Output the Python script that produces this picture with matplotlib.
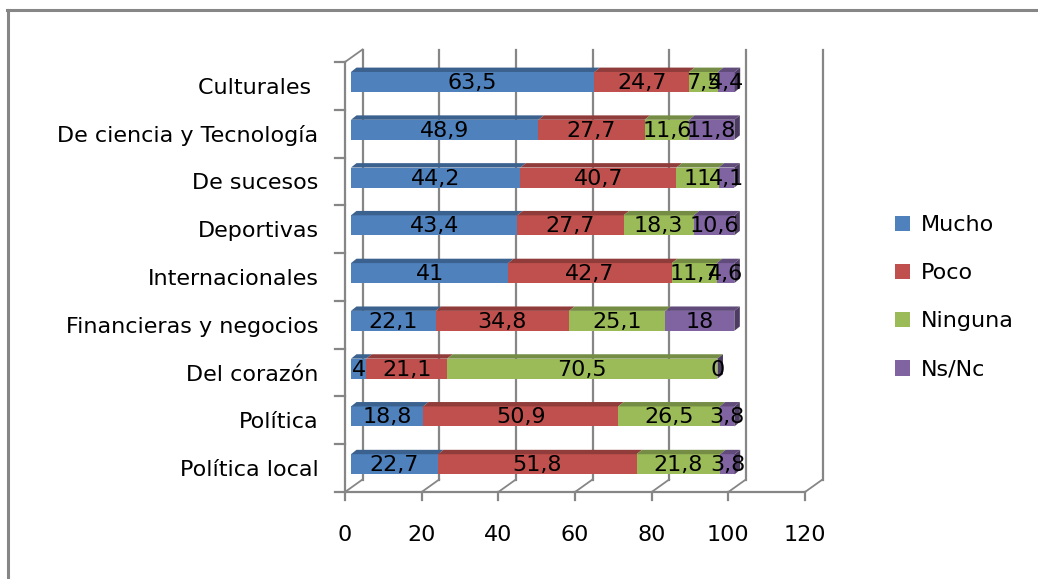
import matplotlib
matplotlib.use("Agg")
import matplotlib.pyplot as plt
from matplotlib.patches import Polygon
from matplotlib.lines import Line2D
from matplotlib.colors import to_rgb

plt.rcParams['font.family'] = ['DejaVu Sans']

categorias = ["Culturales ", "De ciencia y Tecnología", "De sucesos", "Deportivas",
              "Internacionales", "Financieras y negocios", "Del corazón",
              "Política", "Política local"]
series = ["Mucho", "Poco", "Ninguna", "Ns/Nc"]
mucho = [63.5, 48.9, 44.2, 43.4, 41, 22.1, 4, 18.8, 22.7]
poco = [24.7, 27.7, 40.7, 27.7, 42.7, 34.8, 21.1, 50.9, 51.8]
ninguna = [7.5, 11.6, 11, 18.3, 11.7, 25.1, 70.5, 26.5, 21.8]
nsnc = [4.4, 11.8, 4.1, 10.6, 4.6, 18, 0, 3.8, 3.8]
colores = ["#4F81BD", "#C0504D", "#9BBB59", "#8064A2"]
xticks = [0, 20, 40, 60, 80, 100, 120]

W, H = 1038, 579
fig = plt.figure(figsize=(W / 100, H / 100), dpi=100)
# axes = front plane of the 3d box
ax_l, ax_r, ax_t, ax_b = 345, 805, 62, 492
ax = fig.add_axes([ax_l / W, (H - ax_b) / H, (ax_r - ax_l) / W, (ax_b - ax_t) / H])
ax.set_xlim(0, 120)
ax.set_ylim(len(categorias) - 0.5, -0.5)

px_x = (ax_r - ax_l) / 120.0
px_y = (ax_b - ax_t) / len(categorias)

def dx(p):
    return p / px_x

def dy(p):
    return p / px_y

gris = "#868686"
n = len(categorias)
gdx, gdy = dx(17.5), dy(12.5)

# back wall gridlines + floor slants
for t in xticks:
    ax.plot([t + gdx, t + gdx], [n - 0.5 - gdy, -0.5 - gdy], color=gris, lw=1.6, zorder=1, clip_on=False)
    ax.plot([t, t + gdx], [n - 0.5, n - 0.5 - gdy], color=gris, lw=1.3, zorder=1, clip_on=False)
    ax.plot([t, t], [n - 0.5, n - 0.5 + dy(8)], color=gris, lw=1.6, zorder=1, clip_on=False)
ax.plot([0, 120], [n - 0.5, n - 0.5], color=gris, lw=1.6, zorder=1, clip_on=False)
ax.plot([0, 0], [-0.5, n - 0.5], color=gris, lw=1.6, zorder=1, clip_on=False)
ax.plot([0, gdx], [-0.5, -0.5 - gdy], color=gris, lw=1.3, zorder=1, clip_on=False)
for k in range(n + 1):
    ax.plot([0, -dx(10)], [k - 0.5, k - 0.5], color=gris, lw=1.6, zorder=1, clip_on=False)

# bars
fx = dx(6)
fy = dy(3.9)
bh = dy(20)
tdx, tdy = dx(5.5), dy(4.4)
ys = [i - fy for i in range(n)]
datos = [mucho, poco, ninguna, nsnc]
izq = [fx] * n
handles = []
for s, vals in enumerate(datos):
    c = colores[s]
    osc = tuple(v * 0.75 for v in to_rgb(c))
    b = ax.barh(ys, vals, left=izq, height=bh, color=c, zorder=3, label=series[s])
    handles.append(b)
    for i, v in enumerate(vals):
        l = izq[i]
        top = ys[i] - bh / 2
        bot = ys[i] + bh / 2
        ax.add_patch(Polygon([(l, top), (l + v, top), (l + v + tdx, top - tdy), (l + tdx, top - tdy)],
                             closed=True, color=osc, zorder=3, lw=0, clip_on=False))
        if s == len(datos) - 1:
            ax.add_patch(Polygon([(l + v, top), (l + v, bot), (l + v + tdx, bot - tdy), (l + v + tdx, top - tdy)],
                                 closed=True, color=tuple(x * 0.8 for x in osc), zorder=4, lw=0, clip_on=False))
        lab = ("%g" % v).replace(".", ",")
        ax.text(l + v / 2, ys[i] + dy(1), lab, ha="center", va="center", fontsize=16, color="black", zorder=6)
    izq = [izq[i] + vals[i] for i in range(n)]

for sp in ax.spines.values():
    sp.set_visible(False)
ax.set_xticks(xticks)
ax.set_xticklabels([str(t) for t in xticks])
ax.set_yticks(range(n))
ax.set_yticklabels(categorias)
ax.tick_params(axis="x", length=0, pad=24, labelsize=16)
ax.tick_params(axis="y", length=0, pad=19, labelsize=16)
ax.set_facecolor("none")

leg = ax.legend(handles=handles, loc="upper left", bbox_to_anchor=(895 / W, 1 - 215 / H),
                bbox_transform=fig.transFigure, frameon=False, fontsize=16,
                handlelength=0.68, handleheight=0.68, handletextpad=0.5,
                labelspacing=1.27, borderpad=0, borderaxespad=0)

# outer chart border (only top and left visible)
fig.add_artist(Line2D([7 / W, 1], [1 - 9.5 / H, 1 - 9.5 / H], color=gris, lw=2.2, transform=fig.transFigure))
fig.add_artist(Line2D([8 / W, 8 / W], [0, 1 - 9.5 / H], color=gris, lw=2.2, transform=fig.transFigure))

fig.savefig("out.png", dpi=100)
